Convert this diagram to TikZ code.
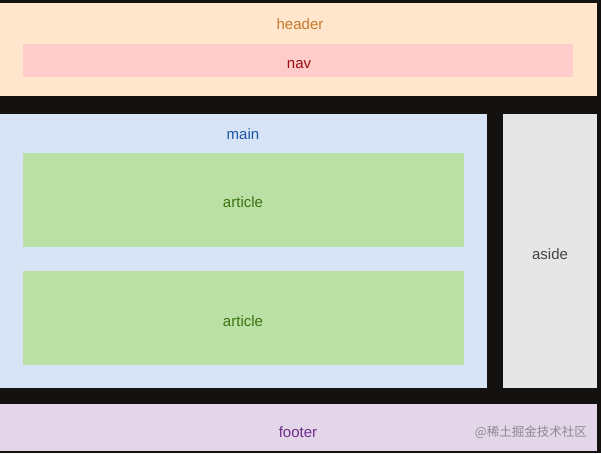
\documentclass[tikz,border=0pt]{standalone}
\usepackage{fontspec}
\setmainfont{Liberation Sans}
\newfontfamily\cjk{Noto Sans CJK SC}
\definecolor{bgdark}{HTML}{131211}
\definecolor{hdrbg}{HTML}{FFE6CC}
\definecolor{navbg}{HTML}{FFCCCC}
\definecolor{mainbg}{HTML}{D7E4F6}
\definecolor{artbg}{HTML}{BBE0A6}
\definecolor{asidebg}{HTML}{E6E6E6}
\definecolor{footbg}{HTML}{E2D6E8}
\definecolor{hdrtxt}{HTML}{C9782C}
\definecolor{navtxt}{HTML}{9A0F0F}
\definecolor{maintxt}{HTML}{1B55A3}
\definecolor{arttxt}{HTML}{3A7410}
\definecolor{asidetxt}{HTML}{444444}
\definecolor{foottxt}{HTML}{6E2C8C}
\definecolor{wmtxt}{HTML}{8C8A90}
\tikzset{
  panel/.style={inner sep=0pt, outer sep=0pt},
  lbl/.style={font=\fontsize{15}{18}\selectfont, inner sep=0pt, anchor=base},
}
\begin{document}
\begin{tikzpicture}[x=1pt,y=-1pt]
\fill[bgdark] (0,0) rectangle (601,453);
\useasboundingbox (0,0) rectangle (601,453);
% boxes
\fill[hdrbg] (0,3) rectangle (597,96);
\fill[navbg] (23,44) rectangle (573,77);
\fill[mainbg] (0,114) rectangle (487,388);
\fill[artbg] (23,153) rectangle (464,247);
\fill[artbg] (23,271) rectangle (464,365);
\fill[asidebg] (503,114) rectangle (597,388);
\fill[footbg] (0,404) rectangle (597,451);
% labels
\node[lbl, text=hdrtxt] (header) at (300,29) {header};
\node[lbl, text=navtxt] (nav) at (299,68) {nav};
\node[lbl, text=maintxt] (main) at (243,139) {main};
\node[lbl, text=arttxt] (article1) at (243,207) {article};
\node[lbl, text=arttxt] (article2) at (243,326) {article};
\node[lbl, text=asidetxt] (aside) at (550,259) {aside};
\node[lbl, text=foottxt] (footer) at (298,437) {footer};
\node[inner sep=0pt, anchor=base east, text=wmtxt, font=\cjk\fontsize{12.5}{15}\selectfont] (wm) at (587,436) {@稀土掘金技术社区};
\end{tikzpicture}
\end{document}
